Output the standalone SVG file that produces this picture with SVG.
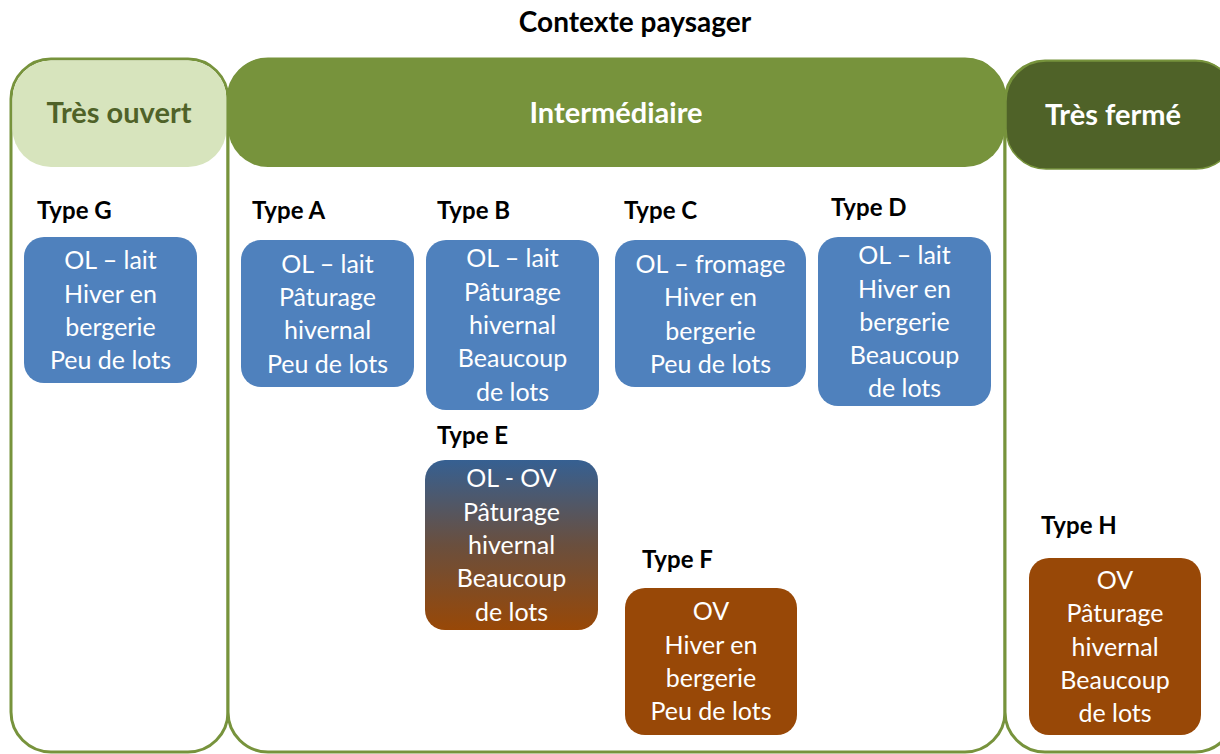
<svg xmlns="http://www.w3.org/2000/svg" width="1220" height="754" viewBox="0 0 1220 754">
<defs>
<linearGradient id="gE" x1="0" y1="0" x2="0" y2="1">
<stop offset="0" stop-color="#366092"/>
<stop offset="0.5" stop-color="#6a4f3e"/>
<stop offset="1" stop-color="#984807"/>
</linearGradient>
</defs>
<style>
.col{fill:#fff;stroke:#77933c;stroke-width:3}
.hd{font-family:Lato,"Liberation Sans",sans-serif;font-weight:bold;font-size:29px;text-anchor:middle}
.ty{font-family:Lato,"Liberation Sans",sans-serif;font-weight:bold;font-size:24px;fill:#000}
.bx{stroke:none}
.blue{fill:#4f81bd}
.brown{fill:#984807}
.t{font-family:Lato,"Liberation Sans",sans-serif;font-size:25px;fill:#fff;text-anchor:middle}
</style>
<rect width="1220" height="754" fill="#fff"/>
<text x="635" y="32" class="hd" style="font-size:28px;fill:#000">Contexte paysager</text>
<g id="col-ouvert">
<rect class="col" x="11" y="59" width="217" height="693" rx="40"/>
<rect x="12.5" y="60.5" width="214" height="106.5" rx="38.5" fill="#d7e4bd"/>
<text x="119" y="123" class="hd" style="fill:#4f6228">Très ouvert</text>
</g>
<g id="col-inter">
<rect class="col" x="228" y="59" width="777" height="693" rx="40"/>
<rect x="228" y="58" width="777" height="109" rx="40" fill="#77933c"/>
<text x="616" y="123" class="hd" style="fill:#fff">Intermédiaire</text>
</g>
<g id="col-ferme">
<rect class="col" x="1005" y="61" width="230" height="691" rx="40"/>
<rect x="1006" y="61" width="230" height="108" rx="40" fill="#4f6228" stroke="#77933c" stroke-width="1.5"/>
<text x="1113" y="125" class="hd" style="fill:#fff">Très fermé</text>
</g>
<g id="typeG">
<text x="37" y="219" class="ty">Type G</text>
<rect class="bx blue" x="24" y="237" width="173" height="146" rx="20"/>
<text class="t"><tspan x="110.5" y="269">OL – lait</tspan><tspan x="110.5" y="303">Hiver en</tspan><tspan x="110.5" y="336">bergerie</tspan><tspan x="110.5" y="369">Peu de lots</tspan></text>
</g>
<g id="typeA">
<text x="252" y="219" class="ty">Type A</text>
<rect class="bx blue" x="241" y="240" width="173" height="147" rx="20"/>
<text class="t"><tspan x="327.5" y="273">OL – lait</tspan><tspan x="327.5" y="306">Pâturage</tspan><tspan x="327.5" y="339">hivernal</tspan><tspan x="327.5" y="373">Peu de lots</tspan></text>
</g>
<g id="typeB">
<text x="437" y="219" class="ty">Type B</text>
<rect class="bx blue" x="426" y="240" width="173" height="170" rx="20"/>
<text class="t"><tspan x="512.5" y="267">OL – lait</tspan><tspan x="512.5" y="301">Pâturage</tspan><tspan x="512.5" y="334">hivernal</tspan><tspan x="512.5" y="367">Beaucoup</tspan><tspan x="512.5" y="401">de lots</tspan></text>
</g>
<g id="typeC">
<text x="624" y="219" class="ty">Type C</text>
<rect class="bx blue" x="615" y="240" width="191" height="147" rx="20"/>
<text class="t"><tspan x="710.5" y="273">OL – fromage</tspan><tspan x="710.5" y="306">Hiver en</tspan><tspan x="710.5" y="340">bergerie</tspan><tspan x="710.5" y="373">Peu de lots</tspan></text>
</g>
<g id="typeD">
<text x="831" y="216" class="ty">Type D</text>
<rect class="bx blue" x="818" y="237" width="173" height="169" rx="20"/>
<text class="t"><tspan x="904.5" y="264">OL – lait</tspan><tspan x="904.5" y="298">Hiver en</tspan><tspan x="904.5" y="331">bergerie</tspan><tspan x="904.5" y="364">Beaucoup</tspan><tspan x="904.5" y="397">de lots</tspan></text>
</g>
<g id="typeE">
<text x="437" y="444" class="ty">Type E</text>
<rect class="bx" fill="url(#gE)" x="425" y="460" width="173" height="170" rx="20"/>
<text class="t"><tspan x="511.5" y="487">OL - OV</tspan><tspan x="511.5" y="521">Pâturage</tspan><tspan x="511.5" y="554">hivernal</tspan><tspan x="511.5" y="587">Beaucoup</tspan><tspan x="511.5" y="621">de lots</tspan></text>
</g>
<g id="typeF">
<text x="642" y="568" class="ty">Type F</text>
<rect class="bx brown" x="625" y="588" width="172" height="147" rx="20"/>
<text class="t"><tspan x="711" y="620">OV</tspan><tspan x="711" y="654">Hiver en</tspan><tspan x="711" y="687">bergerie</tspan><tspan x="711" y="720">Peu de lots</tspan></text>
</g>
<g id="typeH">
<text x="1041" y="534" class="ty">Type H</text>
<rect class="bx brown" x="1029" y="558" width="172" height="177" rx="20"/>
<text class="t"><tspan x="1115" y="589">OV</tspan><tspan x="1115" y="622">Pâturage</tspan><tspan x="1115" y="656">hivernal</tspan><tspan x="1115" y="689">Beaucoup</tspan><tspan x="1115" y="722">de lots</tspan></text>
</g>
<g id="connectors"></g>
</svg>
